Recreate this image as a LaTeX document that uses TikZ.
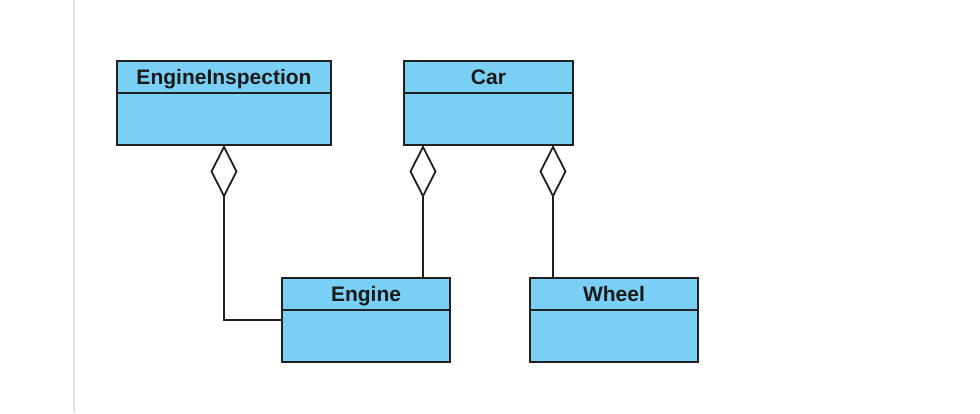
\documentclass[tikz,border=0pt]{standalone}
\usepackage{fontspec}
\setmainfont{Liberation Sans}
\definecolor{classfill}{RGB}{122,207,245}
\definecolor{edge}{RGB}{32,32,32}
\definecolor{margin}{RGB}{228,228,228}
\usetikzlibrary{arrows.meta,positioning}

\begin{document}
\begin{tikzpicture}[x=1pt,y=-1pt,
  classhead/.style={draw=edge,line width=2pt,fill=classfill,minimum height=32pt,
    inner sep=0pt,outer sep=0pt,text height=15pt,text depth=0pt,
    font=\fontsize{21}{24}\selectfont\bfseries,text=black!90},
  classbody/.style={draw=edge,line width=2pt,fill=classfill,minimum height=52pt,
    inner sep=0pt,outer sep=0pt},
  aggr/.style={draw=edge,line width=1.8pt,-{Diamond[open,fill=white,length=53pt,width=27pt]}}]
  \useasboundingbox (0,0) rectangle (980,413);
  \draw[margin,line width=2pt] (74,0) -- (74,413);
  % classes
  \node[classhead,minimum width=214pt] (eihead) at (224,77) {EngineInspection};
  \node[classbody,minimum width=214pt,below=0pt of eihead] (eibody) {};
  \node[classhead,minimum width=169pt] (carhead) at (488.5,77) {Car};
  \node[classbody,minimum width=169pt,below=0pt of carhead] (carbody) {};
  \node[classhead,minimum width=168pt] (enghead) at (366,294) {Engine};
  \node[classbody,minimum width=168pt,below=0pt of enghead] (engbody) {};
  \node[classhead,minimum width=168pt] (wheelhead) at (614,294) {Wheel};
  \node[classbody,minimum width=168pt,below=0pt of wheelhead] (wheelbody) {};
  % aggregations
  \coordinate (carL) at ([xshift=19pt]carbody.south west);
  \coordinate (carR) at ([xshift=-20pt]carbody.south east);
  \draw[aggr] ([yshift=-10pt]engbody.north west) -| (eibody.south);
  \draw[aggr] (enghead.north -| carL) -- (carL);
  \draw[aggr] (wheelhead.north -| carR) -- (carR);
\end{tikzpicture}
\end{document}
